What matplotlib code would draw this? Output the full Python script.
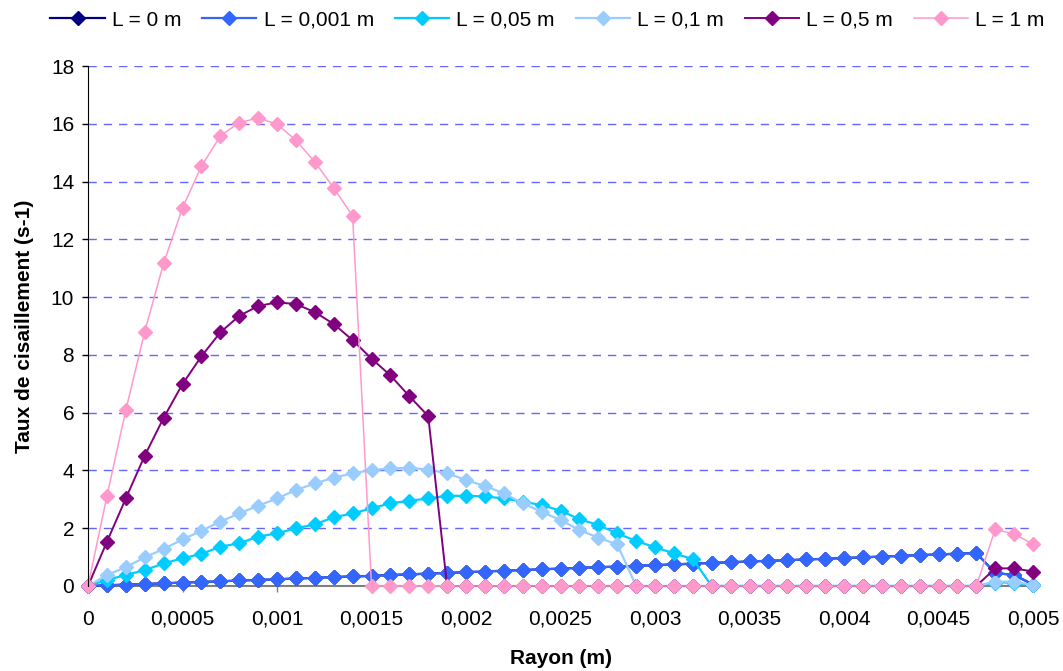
import matplotlib.pyplot as plt

plt.rcParams['font.family'] = ['Liberation Sans', 'DejaVu Sans']

# rayon (m), un point tous les 0,0001 m
rayon = [0.0000, 0.0001, 0.0002, 0.0003, 0.0004, 0.0005, 0.0006, 0.0007, 0.0008, 0.0009,
         0.0010, 0.0011, 0.0012, 0.0013, 0.0014, 0.0015, 0.0016, 0.0017, 0.0018, 0.0019,
         0.0020, 0.0021, 0.0022, 0.0023, 0.0024, 0.0025, 0.0026, 0.0027, 0.0028, 0.0029,
         0.0030, 0.0031, 0.0032, 0.0033, 0.0034, 0.0035, 0.0036, 0.0037, 0.0038, 0.0039,
         0.0040, 0.0041, 0.0042, 0.0043, 0.0044, 0.0045, 0.0046, 0.0047, 0.0048, 0.0049,
         0.0050]

# L = 0 m : cachee sous la serie L = 0,001 m sur le graphique
l_0 = [0, 0.02, 0.05, 0.07, 0.09, 0.12, 0.14, 0.16, 0.19, 0.21,
       0.23, 0.26, 0.28, 0.31, 0.33, 0.35, 0.38, 0.40, 0.43, 0.45,
       0.48, 0.50, 0.53, 0.55, 0.58, 0.60, 0.63, 0.65, 0.67, 0.70,
       0.72, 0.75, 0.77, 0.80, 0.82, 0.85, 0.87, 0.89, 0.92, 0.94,
       0.97, 0.99, 1.02, 1.04, 1.07, 1.09, 1.12, 1.14, 0.45, 0.38,
       0.05]

l_0001 = [0, 0.02, 0.05, 0.07, 0.09, 0.12, 0.14, 0.16, 0.19, 0.21,
          0.23, 0.26, 0.28, 0.31, 0.33, 0.35, 0.38, 0.40, 0.43, 0.45,
          0.48, 0.50, 0.53, 0.55, 0.58, 0.60, 0.63, 0.65, 0.67, 0.70,
          0.72, 0.75, 0.77, 0.80, 0.82, 0.85, 0.87, 0.89, 0.92, 0.94,
          0.97, 0.99, 1.02, 1.04, 1.07, 1.09, 1.12, 1.14, 0.45, 0.38,
          0.05]

l_005 = [0, 0.21, 0.38, 0.55, 0.78, 0.96, 1.11, 1.36, 1.48, 1.71,
         1.82, 2.00, 2.13, 2.38, 2.51, 2.69, 2.86, 2.95, 3.03, 3.12,
         3.12, 3.10, 3.03, 2.92, 2.80, 2.61, 2.31, 2.11, 1.82, 1.56,
         1.34, 1.13, 0.93, 0, 0, 0, 0, 0, 0, 0,
         0, 0, 0, 0, 0, 0, 0, 0, 0.12, 0.12,
         0.02]

l_01 = [0, 0.38, 0.65, 0.99, 1.28, 1.61, 1.91, 2.23, 2.51, 2.78,
        3.03, 3.32, 3.55, 3.75, 3.90, 4.01, 4.07, 4.09, 4.03, 3.90,
        3.67, 3.46, 3.21, 2.86, 2.57, 2.28, 1.94, 1.67, 1.44, 0,
        0, 0, 0, 0, 0, 0, 0, 0, 0, 0,
        0, 0, 0, 0, 0, 0, 0, 0, 0.15, 0.15,
        0.03]

l_05 = [0, 1.53, 3.03, 4.51, 5.82, 6.99, 7.95, 8.78, 9.35, 9.69,
        9.82, 9.76, 9.48, 9.07, 8.51, 7.87, 7.29, 6.57, 5.88, 0,
        0, 0, 0, 0, 0, 0, 0, 0, 0, 0,
        0, 0, 0, 0, 0, 0, 0, 0, 0, 0,
        0, 0, 0, 0, 0, 0, 0, 0, 0.61, 0.61,
        0.50]

l_1 = [0, 3.11, 6.09, 8.80, 11.17, 13.09, 14.53, 15.58, 16.04, 16.20,
       15.99, 15.43, 14.68, 13.78, 12.81, 0, 0, 0, 0, 0,
       0, 0, 0, 0, 0, 0, 0, 0, 0, 0,
       0, 0, 0, 0, 0, 0, 0, 0, 0, 0,
       0, 0, 0, 0, 0, 0, 0, 0, 1.96, 1.80,
       1.45]

series = [l_0, l_0001, l_005, l_01, l_05, l_1]
noms = ["L = 0 m", "L = 0,001 m", "L = 0,05 m", "L = 0,1 m", "L = 0,5 m", "L = 1 m"]
couleurs = ["#000080", "#3366FF", "#00CCFF", "#99CCFF", "#800080", "#FF99CC"]
epaisseurs = [1.6, 1.6, 1.6, 1.6, 1.4, 1.1]

x_ticks = [0, 0.0005, 0.001, 0.0015, 0.002, 0.0025, 0.003, 0.0035, 0.004, 0.0045, 0.005]
x_labels = ["0", "0,0005", "0,001", "0,0015", "0,002", "0,0025", "0,003", "0,0035",
            "0,004", "0,0045", "0,005"]
y_ticks = [0, 2, 4, 6, 8, 10, 12, 14, 16, 18]

fig = plt.figure(figsize=(10.63, 6.71), dpi=100)
ax = fig.add_axes([0.0828, 0.1267, 0.889, 0.7749])

for val, nom, c, lw in zip(series, noms, couleurs, epaisseurs):
    ax.plot(rayon, val, color=c, lw=lw, marker="D", ms=7, mec=c, mfc=c,
            label=nom, clip_on=False)

ax.set_xlim(0, 0.005)
ax.set_ylim(0, 18)
ax.set_xticks(x_ticks)
ax.set_xticklabels(x_labels)
ax.set_yticks(y_ticks)
ax.tick_params(axis="both", labelsize=15, direction="out", length=4, width=1, colors="black")
ax.tick_params(axis="x", pad=13, color="#808080")
ax.tick_params(axis="y", pad=6)

ax.grid(axis="y", color="#6666FF", linestyle=(0, (6, 5)), lw=1)
ax.set_axisbelow(True)
for s in ["top", "right"]:
    ax.spines[s].set_visible(False)
ax.spines["left"].set_color("black")
ax.spines["bottom"].set_color("#808080")
ax.spines["bottom"].set_linewidth(1.5)
ax.spines["bottom"].set_zorder(0.5)

ax.set_xlabel("Rayon (m)", fontsize=15, fontweight="bold", labelpad=15)
ax.set_ylabel("Taux de cisaillement (s-1)", fontsize=15, fontweight="bold", labelpad=12)

fig.legend(loc="upper center", bbox_to_anchor=(0.515, 1.012), ncol=6, frameon=False,
           fontsize=15, handlelength=2.6, columnspacing=1.0, handletextpad=0.35)

fig.savefig("out.png", dpi=100)
